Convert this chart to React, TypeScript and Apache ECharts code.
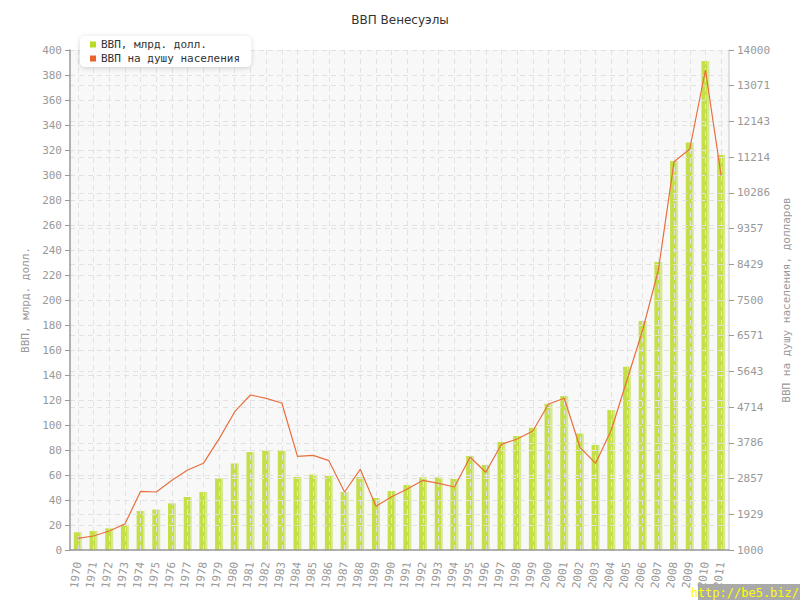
import React, { useEffect, useRef } from "react";
import * as echarts from "echarts";

const years = [
  "1970", "1971", "1972", "1973", "1974", "1975", "1976", "1977", "1978", "1979",
  "1980", "1981", "1982", "1983", "1984", "1985", "1986", "1987", "1988", "1989",
  "1990", "1991", "1992", "1993", "1994", "1995", "1996", "1997", "1998", "1999",
  "2000", "2001", "2002", "2003", "2004", "2005", "2006", "2007", "2008", "2009",
  "2010", "2011",
];

const gdp = [
  14.2, 15.2, 17.3, 20.3, 31.2, 32.3, 37.3, 42.4, 46.4, 57.3,
  69.3, 78.4, 79.5, 79.5, 58.4, 60.3, 59.2, 46.4, 58.4, 41.6,
  47.2, 52.0, 58.1, 58.1, 56.8, 75.2, 68.0, 86.4, 91.2, 97.9,
  117.0, 123.2, 93.3, 84.0, 112.0, 146.7, 183.2, 230.4, 311.2, 326.1,
  391.2, 316.3,
];

const perCapita = [
  1304, 1364, 1494, 1676, 2526, 2508, 2812, 3080, 3254, 3890,
  4596, 5030, 4944, 4822, 3436, 3462, 3322, 2508, 3098, 2136,
  2386, 2586, 2812, 2734, 2638, 3410, 3020, 3748, 3886, 4094,
  4796, 4944, 3670, 3254, 4120, 5420, 6720, 8280, 11096, 11426,
  13480, 10732,
];

const rightTickLabels = [
  "1000", "1929", "2857", "3786", "4714", "5643", "6571", "7500",
  "8429", "9357", "10286", "11214", "12143", "13071", "14000",
];

const seriesNames = ["ВВП, млрд. долл.", "ВВП на душу населения"];
const titleText = "ВВП Венесуэлы";
const leftAxisName = "ВВП, млрд. долл.";
const rightAxisName = "ВВП на душу населения, долларов";
const watermark = "http://be5.biz/";

const MONO = "DejaVu Sans Mono";
const GRID_COLOR = "#e2e2e2";
const LABEL_COLOR = "#999";
const LINE_COLOR = "#e8703e";

export default function App() {
  const ref = useRef<HTMLDivElement>(null);

  useEffect(() => {
    if (!ref.current) return;
    const chart = echarts.init(ref.current, undefined, { renderer: "svg" });
    const barColor = new echarts.graphic.LinearGradient(0, 0, 1, 0, [
      { offset: 0, color: "#c4df48" },
      { offset: 0.74, color: "#c4df48" },
      { offset: 0.74, color: "#d6e98e" },
      { offset: 1, color: "#d6e98e" },
    ]);
    const dashed = { color: GRID_COLOR, type: [5, 4] as any, width: 1 };
    chart.setOption({
      animation: false,
      backgroundColor: "#fff",
      title: {
        text: titleText,
        left: "center",
        top: 9,
        textStyle: { fontFamily: "DejaVu Sans", fontSize: 12, fontWeight: "normal", color: "#333" },
      },
      legend: {
        data: [
          { name: seriesNames[0], icon: "rect", itemStyle: { color: "#b8dc22" } },
          { name: seriesNames[1], icon: "rect", itemStyle: { color: "#e8642e" } },
        ],
        orient: "vertical",
        left: 80,
        top: 36,
        itemWidth: 6,
        itemHeight: 6,
        itemGap: 3,
        padding: [3, 11, 3, 10],
        backgroundColor: "#fff",
        borderRadius: 5,
        shadowBlur: 5,
        shadowColor: "rgba(0,0,0,0.18)",
        shadowOffsetY: 1,
        textStyle: { fontFamily: MONO, fontSize: 11, color: "#333" },
      },
      grid: {
        left: 70,
        right: 70,
        top: 50,
        bottom: 50,
        show: true,
        backgroundColor: "#f8f8f8",
        borderWidth: 0,
      },
      xAxis: {
        type: "category",
        data: years,
        z: 3,
        axisLine: { lineStyle: { color: "#999", width: 1.5 } },
        axisTick: { alignWithLabel: true, length: 5, lineStyle: { color: "#999" } },
        axisLabel: {
          rotate: 82,
          margin: 12,
          interval: 0,
          fontFamily: MONO,
          fontSize: 11,
          color: LABEL_COLOR,
        },
        splitLine: { show: true, alignWithLabel: true, interval: 0, lineStyle: dashed } as any,
      },
      yAxis: [
        {
          type: "value",
          min: 0,
          max: 400,
          interval: 20,
          z: 3,
          name: leftAxisName,
          nameLocation: "middle",
          nameRotate: 90,
          nameGap: 34,
          nameTextStyle: { fontFamily: MONO, fontSize: 11, color: LABEL_COLOR },
          axisLine: { show: true, lineStyle: { color: "#999", width: 1.5 } },
          axisTick: { show: true, length: 5, lineStyle: { color: "#999" } },
          axisLabel: { fontFamily: MONO, fontSize: 11, color: LABEL_COLOR, margin: 8 },
          splitLine: { show: true, lineStyle: dashed },
        },
        {
          type: "value",
          min: 1000,
          max: 14000,
          position: "right",
          show: false,
          splitLine: { show: false },
        },
        {
          type: "category",
          data: rightTickLabels,
          boundaryGap: false,
          position: "right",
          z: 3,
          name: rightAxisName,
          nameLocation: "middle",
          nameRotate: 90,
          nameGap: 44,
          nameTextStyle: { fontFamily: MONO, fontSize: 11, color: LABEL_COLOR },
          axisLine: { show: true, lineStyle: { color: "#d8d8d8", width: 1.5 } },
          axisTick: { show: true, length: 5, lineStyle: { color: "#999" } },
          axisLabel: { fontFamily: MONO, fontSize: 11, color: LABEL_COLOR, margin: 8, interval: 0 },
          splitLine: { show: true, interval: 0, lineStyle: dashed },
        },
      ],
      series: [
        {
          name: seriesNames[0],
          type: "bar",
          data: gdp,
          yAxisIndex: 0,
          barWidth: 8,
          itemStyle: { color: barColor },
          z: 2,
        },
        {
          name: seriesNames[1],
          type: "line",
          data: perCapita,
          yAxisIndex: 1,
          showSymbol: false,
          symbol: "none",
          lineStyle: { color: LINE_COLOR, width: 1.2 },
          itemStyle: { color: LINE_COLOR },
          z: 6,
        },
      ],
      graphic: [
        {
          type: "rect",
          right: 0,
          bottom: 0,
          shape: { width: 102, height: 16 },
          style: { fill: "#a9a9a9" },
          z: 10,
        },
        {
          type: "text",
          right: 1,
          bottom: 1,
          style: { text: watermark, fill: "#ffff00", font: "12px DejaVu Sans Mono" },
          z: 11,
        },
      ],
    });
    return () => chart.dispose();
  }, []);

  return (
    <div
      ref={ref}
      style={{ position: "fixed", left: 0, top: 0, width: 800, height: 600 }}
    />
  );
}
